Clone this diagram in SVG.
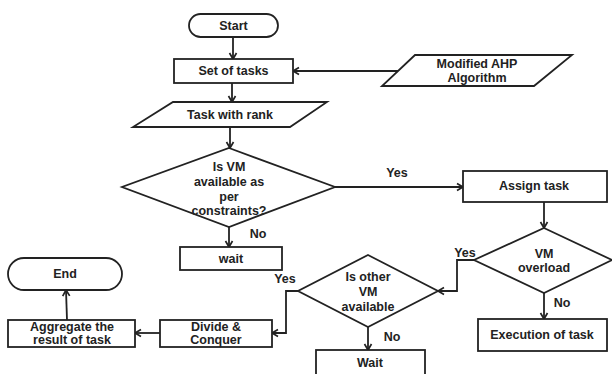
<svg xmlns="http://www.w3.org/2000/svg" width="612" height="374" viewBox="0 0 612 374">
<style>
.s{fill:#fff;stroke:#222;stroke-width:1.8}
.t{font-family:"Liberation Sans",Arial,sans-serif;font-weight:bold;font-size:12.5px;fill:#222;text-anchor:middle;dominant-baseline:central}
.c{fill:none;stroke:#222;stroke-width:1.8}
</style>
<defs>
<marker id="a" markerWidth="10" markerHeight="10" refX="8" refY="5" orient="auto" markerUnits="userSpaceOnUse">
<polyline points="2,1.5 8,5 2,8.5" fill="none" stroke="#222" stroke-width="1.7"/>
</marker>
</defs>
<rect width="612" height="374" fill="#fff"/>
<g id="connectors">
<line class="c" x1="233" y1="37" x2="233" y2="59" marker-end="url(#a)"/>
<line class="c" x1="398" y1="71" x2="293" y2="71" marker-end="url(#a)"/>
<line class="c" x1="232" y1="83" x2="232" y2="102" marker-end="url(#a)"/>
<line class="c" x1="230" y1="127" x2="230" y2="148" marker-end="url(#a)"/>
<line class="c" x1="335" y1="187" x2="463" y2="187" marker-end="url(#a)"/>
<line class="c" x1="229" y1="227" x2="229" y2="247" marker-end="url(#a)"/>
<line class="c" x1="544" y1="202" x2="544" y2="228" marker-end="url(#a)"/>
<polyline class="c" points="474,260 457,260 457,291 438,291" marker-end="url(#a)"/>
<line class="c" x1="544" y1="293" x2="544" y2="319" marker-end="url(#a)"/>
<polyline class="c" points="298,291 286,291 286,333 272,333" marker-end="url(#a)"/>
<line class="c" x1="368" y1="327" x2="368" y2="350" marker-end="url(#a)"/>
<line class="c" x1="160" y1="333" x2="135" y2="333" marker-end="url(#a)"/>
<line class="c" x1="67" y1="320" x2="66" y2="290" marker-end="url(#a)"/>
<text class="t" x="397" y="173">Yes</text>
<text class="t" x="258" y="234">No</text>
<text class="t" x="465" y="253">Yes</text>
<text class="t" x="562" y="303">No</text>
<text class="t" x="285" y="279">Yes</text>
<text class="t" x="392" y="337">No</text>
</g>
<g id="start">
<rect class="s" x="189" y="14" width="89" height="23" rx="11.5"/>
<text class="t" x="233.5" y="25.5">Start</text>
</g>
<g id="set-of-tasks">
<rect class="s" x="174" y="59" width="119" height="24"/>
<text class="t" x="233.5" y="71">Set of tasks</text>
</g>
<g id="modified-ahp">
<polygon class="s" points="415,55 572,55 534,86 382,86"/>
<text class="t" x="477" y="64">Modified AHP</text>
<text class="t" x="477" y="78">Algorithm</text>
</g>
<g id="task-with-rank">
<polygon class="s" points="173,102 327,102 290,127 133,127"/>
<text class="t" x="230" y="115">Task with rank</text>
</g>
<g id="vm-available">
<polygon class="s" points="229,148 335,187 229,227 122,187"/>
<text class="t" x="229" y="167">Is VM</text>
<text class="t" x="229" y="182">available as</text>
<text class="t" x="229" y="197">per</text>
<text class="t" x="229" y="211">constraints?</text>
</g>
<g id="wait1">
<rect class="s" x="180" y="247" width="102" height="23"/>
<text class="t" x="231" y="259">wait</text>
</g>
<g id="assign-task">
<rect class="s" x="463" y="171" width="144" height="31"/>
<text class="t" x="534" y="186">Assign task</text>
</g>
<g id="vm-overload">
<polygon class="s" points="544,228 612,260 544,293 474,260"/>
<text class="t" x="544" y="254">VM</text>
<text class="t" x="544" y="268">overload</text>
</g>
<g id="execution">
<rect class="s" x="478" y="319" width="129" height="32"/>
<text class="t" x="542" y="335">Execution of task</text>
</g>
<g id="other-vm">
<polygon class="s" points="368,255 438,291 368,327 298,291"/>
<text class="t" x="368" y="277">Is other</text>
<text class="t" x="368" y="292">VM</text>
<text class="t" x="368" y="307">available</text>
</g>
<g id="wait2">
<rect class="s" x="316" y="350" width="109" height="30"/>
<text class="t" x="370" y="363">Wait</text>
</g>
<g id="divide">
<rect class="s" x="160" y="320" width="112" height="27"/>
<text class="t" x="216" y="327">Divide &amp;</text>
<text class="t" x="216" y="340">Conquer</text>
</g>
<g id="aggregate">
<rect class="s" x="8" y="320" width="127" height="27"/>
<text class="t" x="72" y="327">Aggregate the</text>
<text class="t" x="72" y="340">result of task</text>
</g>
<g id="end">
<rect class="s" x="8" y="258" width="114" height="32" rx="16"/>
<text class="t" x="65" y="274">End</text>
</g>
</svg>
